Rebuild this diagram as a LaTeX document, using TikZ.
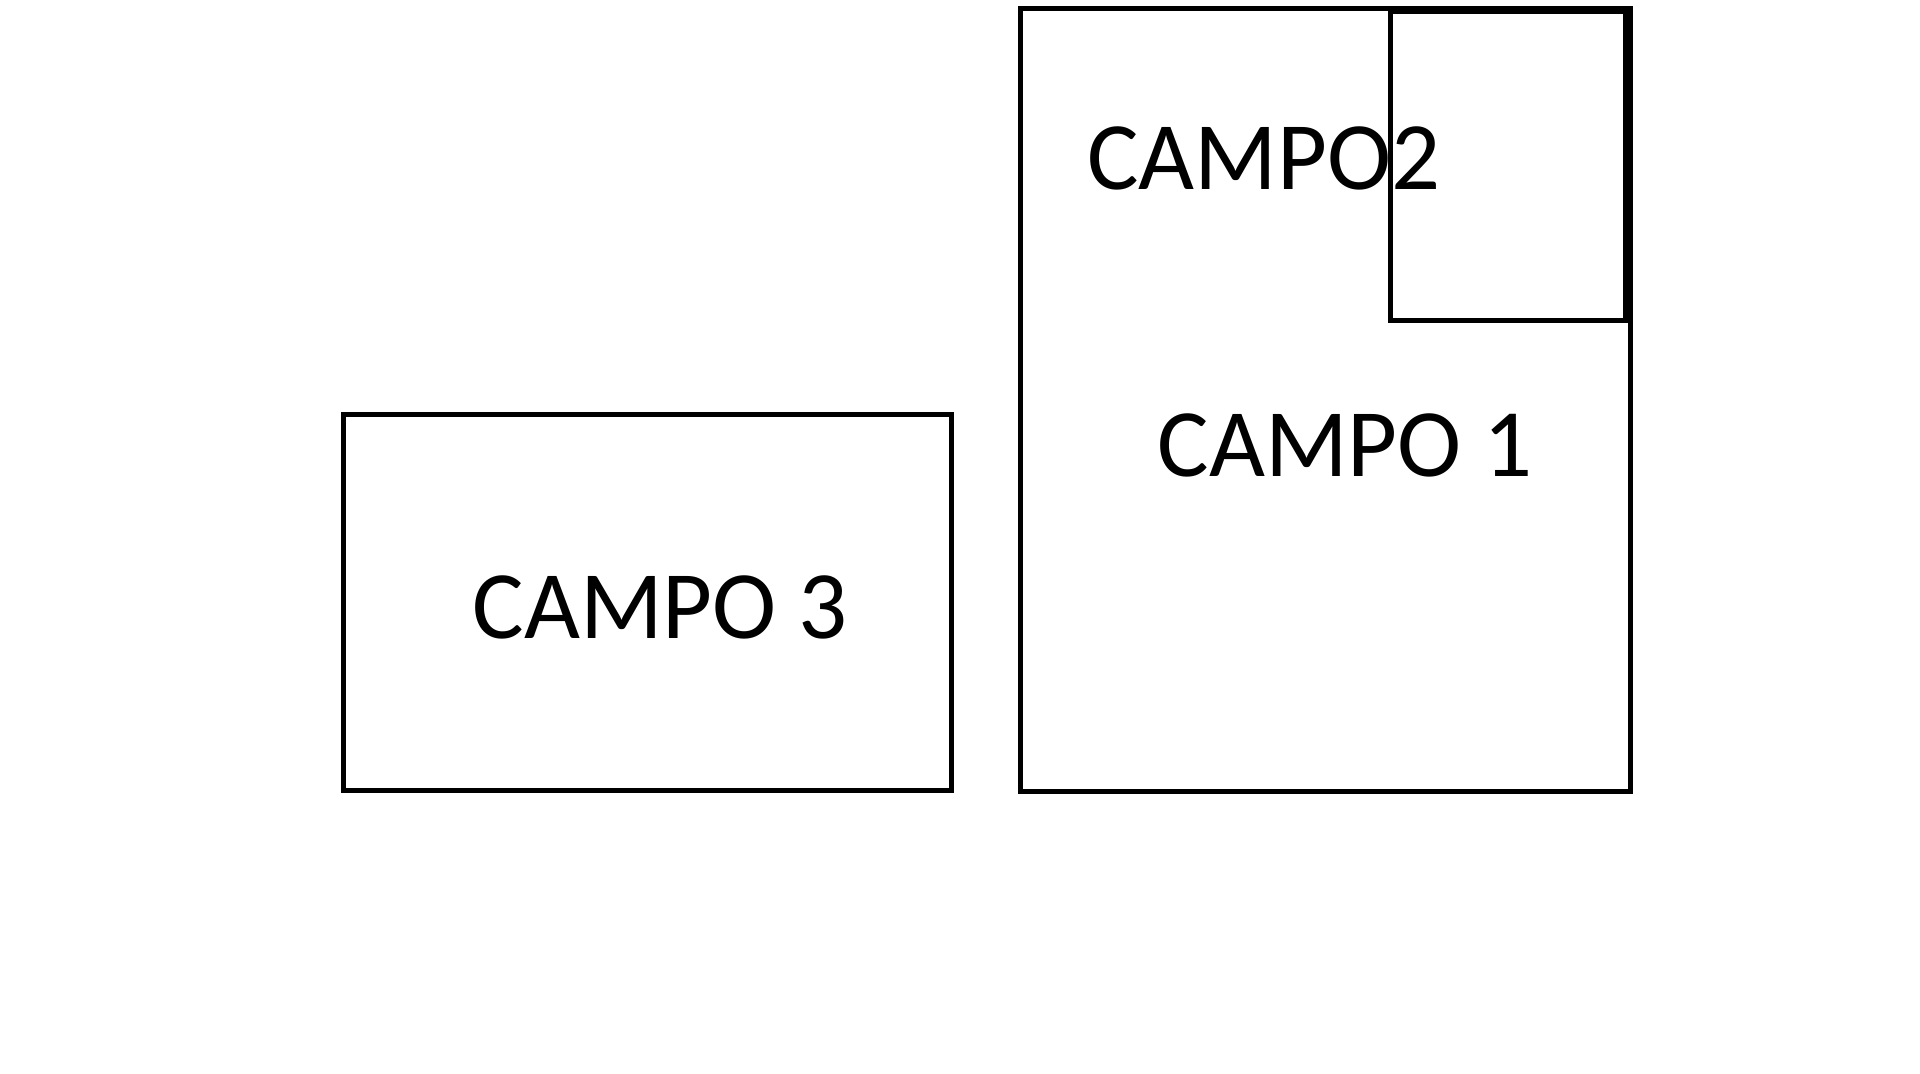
\documentclass[tikz,border=0pt]{standalone}
\usepackage{fontspec}
\setmainfont{Carlito}
\usepackage{tikz}

\begin{document}
\begin{tikzpicture}[
 x=0.01cm,y=-0.01cm,
 campo/.style={draw=black,line width=1.33pt},
 etiqueta/.style={inner sep=0pt,anchor=base,font=\fontsize{27.5}{33}\selectfont}
]
\useasboundingbox (0,0) rectangle (1920,1074);
\draw[campo] (343.3,414.3) rectangle (951.7,790.3);
\draw[campo] (1020.3,8.3) rectangle (1630.5,791.7);
\draw[campo] (1390.3,11.7) rectangle (1625.5,320.5);
\node[etiqueta] (campo2) at (1264,190) {CAMPO2};
\node[etiqueta] (campo1) at (1345,476.5) {CAMPO 1};
\node[etiqueta] (campo3) at (660,638.5) {CAMPO 3};
\end{tikzpicture}
\end{document}
